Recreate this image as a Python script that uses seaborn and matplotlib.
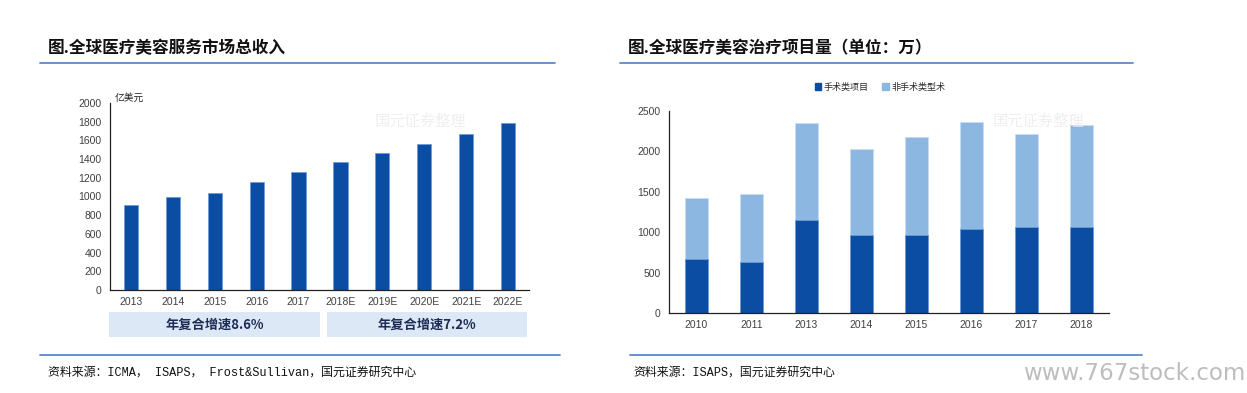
import matplotlib
matplotlib.use("Agg")
import matplotlib.pyplot as plt
import matplotlib.patches as mpatches
from matplotlib.lines import Line2D
import seaborn as sns
import pandas as pd

# data
rev_years = ['2013', '2014', '2015', '2016', '2017', '2018E', '2019E', '2020E', '2021E', '2022E']
revenue = [910, 1000, 1040, 1155, 1260, 1365, 1460, 1565, 1670, 1785]
cagr_labels = ['年复合增速8.6%', '年复合增速7.2%']

proc_years = ['2010', '2011', '2013', '2014', '2015', '2016', '2017', '2018']
surgical = [665, 630, 1155, 960, 960, 1040, 1070, 1060]
non_surgical = [755, 845, 1200, 1070, 1215, 1330, 1145, 1270]
series_names = ['手术类项目', '非手术类型术']

dark_blue = '#0b4da2'
light_blue = '#8cb7e1'
rule_blue = '#5b8bc8'
tick_col = '#404040'

sns.set_style("white")
plt.rcParams['font.family'] = ['Noto Sans CJK SC', 'DejaVu Sans']
src_font = ['Liberation Mono', 'Noto Sans CJK SC']

W, H = 1247, 393
fig = plt.figure(figsize=(W / 100, H / 100), dpi=100)


def px_axes(x0, y_top, x1, y_bot):
    return fig.add_axes([x0 / W, 1 - y_bot / H, (x1 - x0) / W, (y_bot - y_top) / H])


def fig_line(x0, x1, y):
    fig.add_artist(Line2D([x0 / W, x1 / W], [1 - y / H, 1 - y / H], color=rule_blue, lw=1.3))


def style_axes(ax, n):
    for s in ['top', 'right']:
        ax.spines[s].set_visible(False)
    for s in ['left', 'bottom']:
        ax.spines[s].set_color('#222222')
        ax.spines[s].set_linewidth(0.9)
    ax.set_xlim(-0.5, n - 0.5)
    ax.set_xticks([i - 0.5 for i in range(n + 1)], minor=True)
    ax.tick_params(axis='x', which='major', length=0, labelsize=7.5, colors=tick_col, pad=5,
                   labelfontfamily='Liberation Sans')
    ax.tick_params(axis='x', which='minor', length=3, width=0.8, direction='out', color='#222222')
    ax.tick_params(axis='y', length=3, width=0.8, direction='out', labelsize=7.5,
                   colors=tick_col, pad=3, labelfontfamily='Liberation Sans')
    ax.tick_params(axis='y', color='#222222')
    ax.set_xlabel('')
    ax.set_ylabel('')
    ax.grid(False)


# ---------------- left chart ----------------
fig.text(48 / W, 1 - 48 / H, '图.全球医疗美容服务市场总收入', fontsize=12, fontweight='heavy',
         va='center', ha='left', color='#111111')
fig_line(40, 555, 63)

ax1 = px_axes(110, 103, 529, 290)
df1 = pd.DataFrame({'year': rev_years, 'revenue': revenue})
sns.barplot(data=df1, x='year', y='revenue', color=dark_blue, width=0.34, saturation=1,
            edgecolor='#6f9bd6', linewidth=0.6, ax=ax1)
ax1.set_ylim(0, 2000)
ax1.set_yticks(range(0, 2001, 200))
style_axes(ax1, len(rev_years))
ax1.text(0.012, 1.0, '亿美元', transform=ax1.transAxes, fontsize=7, va='bottom', ha='left',
         color='#222222')
ax1.text(0.74, 0.9, '国元证券整理', transform=ax1.transAxes, fontsize=11, color='#ececec',
         ha='center', va='center', family=['Noto Serif CJK SC', 'Noto Sans CJK SC'])

for (bx0, bx1), lab in zip([(109, 320), (327, 527)], cagr_labels):
    fig.add_artist(mpatches.Rectangle((bx0 / W, 1 - 337 / H), (bx1 - bx0) / W, 25 / H,
                                      transform=fig.transFigure, facecolor='#dce8f5',
                                      edgecolor='none'))
    fig.text((bx0 + bx1) / 2 / W, 1 - 325 / H, lab, fontsize=9.5, fontweight='bold',
             color='#1d2b55', ha='center', va='center')

fig_line(40, 560, 355)
fig.text(48 / W, 1 - 373 / H, '资料来源：ICMA， ISAPS， Frost&Sullivan，国元证券研究中心', fontsize=8.6,
         va='center', ha='left', color='#111111', family=src_font)

# ---------------- right chart ----------------
fig.text(628 / W, 1 - 48 / H, '图.全球医疗美容治疗项目量（单位：万）', fontsize=12,
         fontweight='heavy', va='center', ha='left', color='#111111')
fig_line(620, 1133, 63)

ax2 = px_axes(669, 111, 1109, 313)
df2 = pd.DataFrame({'year': proc_years, 'surgical': surgical, 'non_surgical': non_surgical})
df2['total'] = df2['surgical'] + df2['non_surgical']
sns.barplot(data=df2, x='year', y='total', color=light_blue, width=0.42, saturation=1,
            edgecolor='#c9ddf2', linewidth=0.6, ax=ax2)
sns.barplot(data=df2, x='year', y='surgical', color=dark_blue, width=0.42, saturation=1,
            edgecolor='#6f9bd6', linewidth=0.6, ax=ax2)
ax2.set_ylim(0, 2500)
ax2.set_yticks(range(0, 2501, 500))
style_axes(ax2, len(proc_years))
ax2.text(0.84, 0.95, '国元证券整理', transform=ax2.transAxes, fontsize=11, color='#ececec',
         ha='center', va='center', family=['Noto Serif CJK SC', 'Noto Sans CJK SC'])

handles = [mpatches.Patch(color=dark_blue, label=series_names[0]),
           mpatches.Patch(color=light_blue, label=series_names[1])]
fig.legend(handles=handles, loc='center', bbox_to_anchor=(880 / W, 1 - 87 / H), ncol=2,
           frameon=False, fontsize=6.5, handlelength=0.7, handleheight=0.7,
           handletextpad=0.3, columnspacing=1.5)

fig_line(630, 1142, 355)
fig.text(633 / W, 1 - 373 / H, '资料来源：ISAPS，国元证券研究中心', fontsize=8.6,
         va='center', ha='left', color='#111111', family=src_font)
fig.text(1245 / W, 1 - 374 / H, 'www.767stock.com', fontsize=16.5, color='#bdbdbd',
         ha='right', va='center', family='DejaVu Sans')

fig.savefig('out.png', dpi=100)
